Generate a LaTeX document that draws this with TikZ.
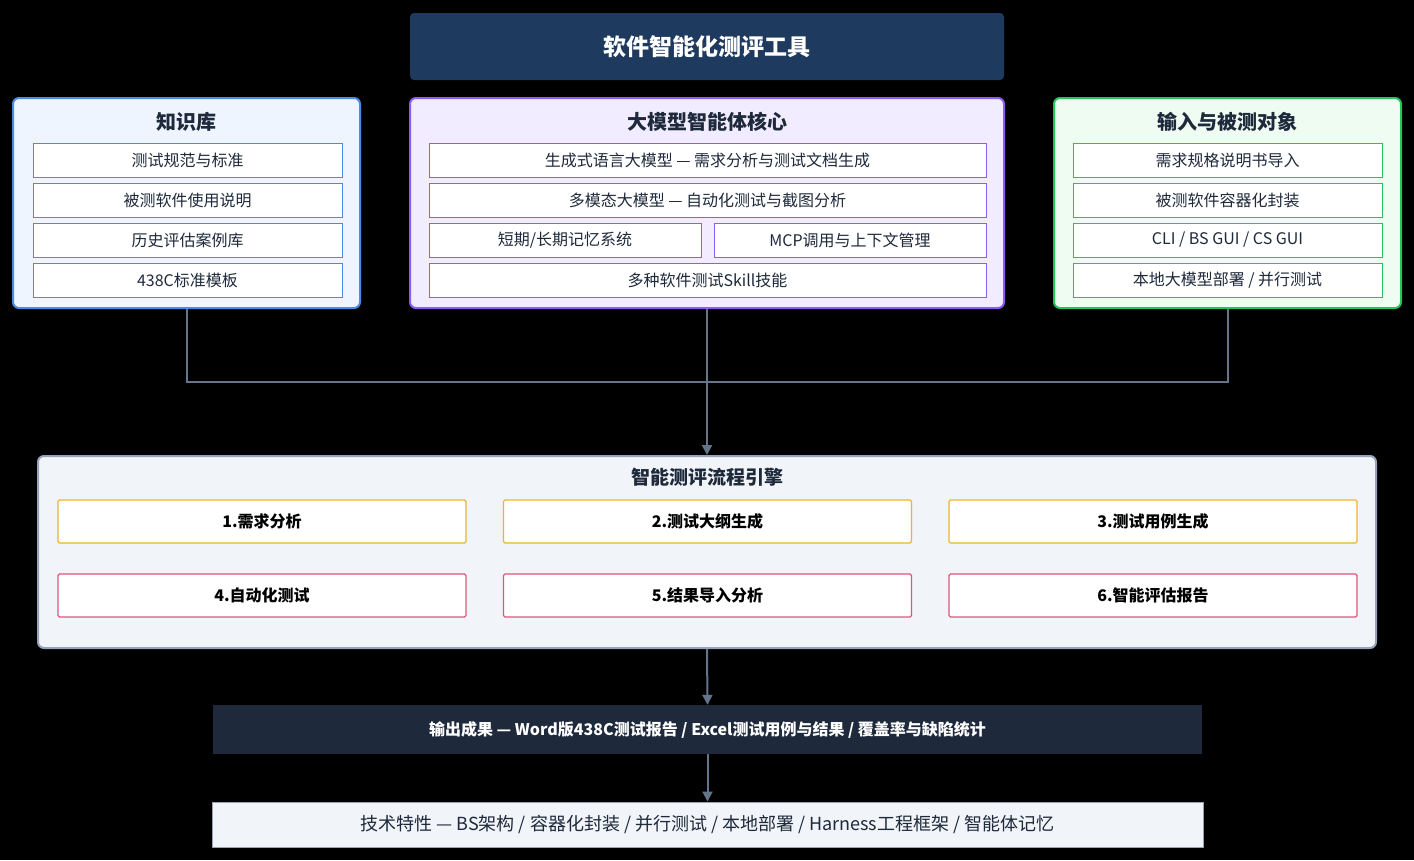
\documentclass[tikz,border=0pt]{standalone}
\usepackage{fontspec}
\setmainfont{Noto Sans CJK SC}
\usetikzlibrary{arrows.meta, calc}
\definecolor{TitleFill}{HTML}{1F3A5F}
\definecolor{KnowBorder}{HTML}{4A8AE8}
\definecolor{KnowFill}{HTML}{EEF5FF}
\definecolor{CoreBorder}{HTML}{8B5CF6}
\definecolor{CoreFill}{HTML}{F1ECFF}
\definecolor{InputBorder}{HTML}{22C55E}
\definecolor{InputFill}{HTML}{EEFCF2}
\definecolor{EngineFill}{HTML}{F1F4F8}
\definecolor{EngineBorder}{HTML}{94A3B8}
\definecolor{StepOne}{HTML}{F0B429}
\definecolor{StepTwo}{HTML}{E0557A}
\definecolor{OutputFill}{HTML}{1E293B}
\definecolor{Connector}{HTML}{64748B}
\definecolor{TextDark}{HTML}{1E293B}

\begin{document}
\begin{tikzpicture}[x=1pt, y=-1pt,
    group/.style={draw, line width=2pt, rounded corners=6pt},
    item/.style={draw, line width=1pt, fill=white, text=TextDark, font=\fontsize{16}{18}\selectfont},
    stage/.style={draw, line width=1.2pt, fill=white, rounded corners=1.5pt, font=\bfseries\fontsize{16}{18}\selectfont},
    header/.style={font=\bfseries\fontsize{20}{22}\selectfont, text=TextDark},
    link/.style={draw=Connector, line width=2pt},
    arrow/.style={link, -{Triangle[length=10pt, width=10pt]}}
]
    \fill[black] (0,0) rectangle (1414,860);
    \useasboundingbox (0,0) rectangle (1414,860);

    % Titel
    \node[fill=TitleFill, rounded corners=4pt, text=white, font=\bfseries\fontsize{23}{26}\selectfont,
          minimum width=594pt, minimum height=67pt] (title) at (707,46.5) {软件智能化测评工具};

    % Drei Gruppen oben
    \node[group, draw=KnowBorder, fill=KnowFill, minimum width=347pt, minimum height=210pt] (know) at (186.5,203) {};
    \node[group, draw=CoreBorder, fill=CoreFill, minimum width=594pt, minimum height=210pt] (core) at (707,203) {};
    \node[group, draw=InputBorder, fill=InputFill, minimum width=347pt, minimum height=210pt] (input) at (1227.5,203) {};

    \node[header] (knowHead) at (186.5,122) {知识库};
    \node[header] (coreHead) at (707,122) {大模型智能体核心};
    \node[header] (inputHead) at (1227.5,122) {输入与被测对象};

    \foreach \txt [count=\i] in {测试规范与标准, 被测软件使用说明, 历史评估案例库, 438C标准模板}
        \node[item, draw=KnowBorder, minimum width=309pt, minimum height=34pt] (know\i) at (187.5,{120+40*\i}) {\txt};

    \foreach \txt [count=\i] in {需求规格说明书导入, 被测软件容器化封装, CLI / BS GUI / CS GUI, 本地大模型部署 / 并行测试}
        \node[item, draw=InputBorder, minimum width=309pt, minimum height=34pt] (input\i) at (1227.5,{120+40*\i}) {\txt};

    \node[item, draw=CoreBorder, minimum width=557pt, minimum height=34pt] (core1) at (707.5,160) {生成式语言大模型 — 需求分析与测试文档生成};
    \node[item, draw=CoreBorder, minimum width=557pt, minimum height=34pt] (core2) at (707.5,200) {多模态大模型 — 自动化测试与截图分析};
    \node[item, draw=CoreBorder, minimum width=272pt, minimum height=34pt] (core3a) at (565,240) {短期/长期记忆系统};
    \node[item, draw=CoreBorder, minimum width=272pt, minimum height=34pt] (core3b) at (850,240) {MCP调用与上下文管理};
    \node[item, draw=CoreBorder, minimum width=557pt, minimum height=34pt] (core4) at (707.5,280) {多种软件测试Skill技能};

    % Flow-Engine
    \node[draw=EngineBorder, line width=2pt, fill=EngineFill, rounded corners=6pt,
          minimum width=1338pt, minimum height=192pt] (engine) at (707,552) {};
    \node[header, font=\bfseries\fontsize{19}{22}\selectfont] (engineHead) at (707,477) {智能测评流程引擎};

    \foreach \txt [count=\i] in {1.需求分析, 2.测试大纲生成, 3.测试用例生成}
        \node[stage, draw=StepOne, minimum width=408pt, minimum height=43pt] (stage\i) at ({262+445.5*(\i-1)},521.5) {\txt};
    \foreach \txt [count=\i from 4] in {4.自动化测试, 5.结果导入分析, 6.智能评估报告}
        \node[stage, draw=StepTwo, minimum width=408pt, minimum height=43pt] (stage\i) at ({262+445.5*(\i-4)},595.5) {\txt};

    % Ausgabe
    \node[fill=OutputFill, text=white, font=\bfseries\fontsize{16}{18}\selectfont,
          minimum width=989pt, minimum height=49pt] (output) at (707.5,729.5)
          {输出成果 — Word版438C测试报告 / Excel测试用例与结果 / 覆盖率与缺陷统计};
    \node[draw=EngineBorder, line width=1pt, fill=EngineFill, text=TextDark, font=\fontsize{18}{20}\selectfont,
          minimum width=991pt, minimum height=45pt] (tech) at (707.5,824.5)
          {技术特性 — BS架构 / 容器化封装 / 并行测试 / 本地部署 / Harness工程框架 / 智能体记忆};

    % Verbindungen
    \coordinate (joinLeft) at (know.south |- 0,382);
    \coordinate (joinRight) at (input.south |- 0,382);
    \draw[link] (know.south) -- (joinLeft) -- (joinRight) -- (input.south);
    \draw[arrow] (core.south) -- (engine.north);
    \draw[arrow] (engine.south) -- (output.north);
    \draw[arrow] (output.south) -- (tech.north);
\end{tikzpicture}
\end{document}
